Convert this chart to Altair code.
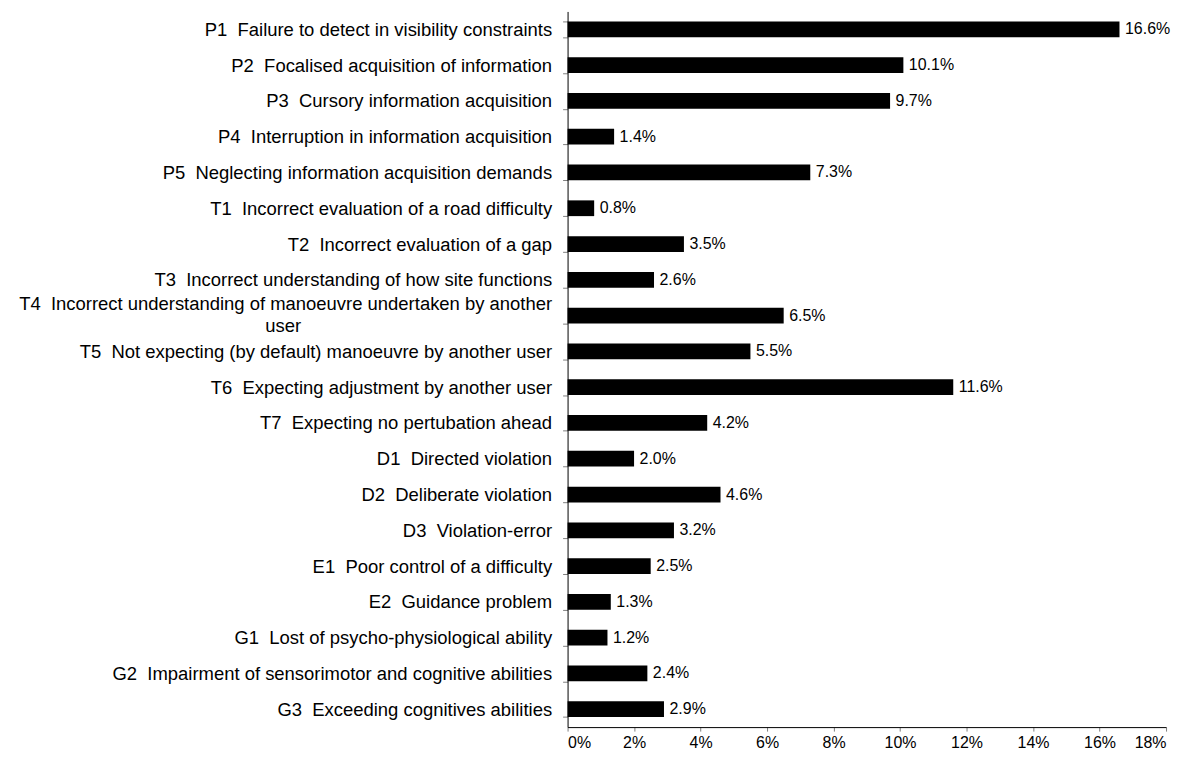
import altair as alt
import pandas as pd

codes = ["P1", "P2", "P3", "P4", "P5", "T1", "T2", "T3", "T4", "T5",
         "T6", "T7", "D1", "D2", "D3", "E1", "E2", "G1", "G2", "G3"]
descriptions = [
    "Failure to detect in visibility constraints",
    "Focalised acquisition of information",
    "Cursory information acquisition",
    "Interruption in information acquisition",
    "Neglecting information acquisition demands",
    "Incorrect evaluation of a road difficulty",
    "Incorrect evaluation of a gap",
    "Incorrect understanding of how site functions",
    "Incorrect understanding of manoeuvre undertaken by another user",
    "Not expecting (by default) manoeuvre by another user",
    "Expecting adjustment by another user",
    "Expecting no pertubation ahead",
    "Directed violation",
    "Deliberate violation",
    "Violation-error",
    "Poor control of a difficulty",
    "Guidance problem",
    "Lost of psycho-physiological ability",
    "Impairment of sensorimotor and cognitive abilities",
    "Exceeding cognitives abilities",
]
values = [16.6, 10.1, 9.7, 1.4, 7.3, 0.8, 3.5, 2.6, 6.5, 5.5,
          11.6, 4.2, 2.0, 4.6, 3.2, 2.5, 1.3, 1.2, 2.4, 2.9]
x_ticks = [0, 2, 4, 6, 8, 10, 12, 14, 16, 18]

NBSP = "\u00a0"
WJ = "\u2060"
labels = []
for c, d in zip(codes, descriptions):
    if c == "T4":
        d = d.replace(" another user", " another|user" + NBSP * 49 + WJ)
    labels.append(c + NBSP + " " + d)

df = pd.DataFrame({"label": labels, "value": values})

FONT = "Liberation Sans"

base = alt.Chart(df).transform_calculate(
    txt="format(datum.value, '.1f') + '%'"
)

is_multi = "isString(datum.value) && indexof(datum.value, '|') >= 0"

y_enc = alt.Y(
    "label:N",
    sort=labels,
    scale=alt.Scale(paddingInner=0.56, paddingOuter=0.28),
    axis=alt.Axis(
        title=None,
        tickBand="extent",
        labelExpr="isValid(datum.value) ? split(datum.value, '|') : ''",
        labelLimit=1000,
        labelFontSize=18.5,
        labelPadding=11,
        labelLineHeight=22,
        labelOffset={"condition": {"test": is_multi, "value": -12}, "value": 0},
        tickSize=5,
        domainColor="black",
        tickColor="#808080",
        labelColor="black",
        labelFont=FONT,
    ),
)

bars = base.mark_bar(color="black").encode(
    x=alt.X(
        "value:Q",
        scale=alt.Scale(domain=[0, 18], nice=False, zero=True),
        axis=alt.Axis(
            title=None,
            values=x_ticks,
            labelExpr="datum.value + '%'",
            grid=False,
            tickSize=4,
            labelPadding=16,
            labelBaseline="alphabetic",
            labelFontSize=16,
            domainColor="black",
            tickColor="#808080",
            labelColor="black",
            labelFont=FONT,
        ),
    ),
    y=y_enc,
)

text = base.mark_text(
    align="left", baseline="middle", dx=5.5, fontSize=16, font=FONT, color="black"
).encode(
    x=alt.X("value:Q"),
    y=alt.Y("label:N", sort=labels),
    text="txt:N",
)

chart = (
    (bars + text)
    .properties(
        width=600,
        height=717.5,
        autosize=alt.AutoSizeParams(type="none"),
        padding={"left": 561, "top": 2.5, "right": 14, "bottom": 21.5},
    )
    .configure(font=FONT)
    .configure_view(strokeWidth=0)
)

chart.save("out.html", embed_options={"renderer": "svg", "actions": False})
